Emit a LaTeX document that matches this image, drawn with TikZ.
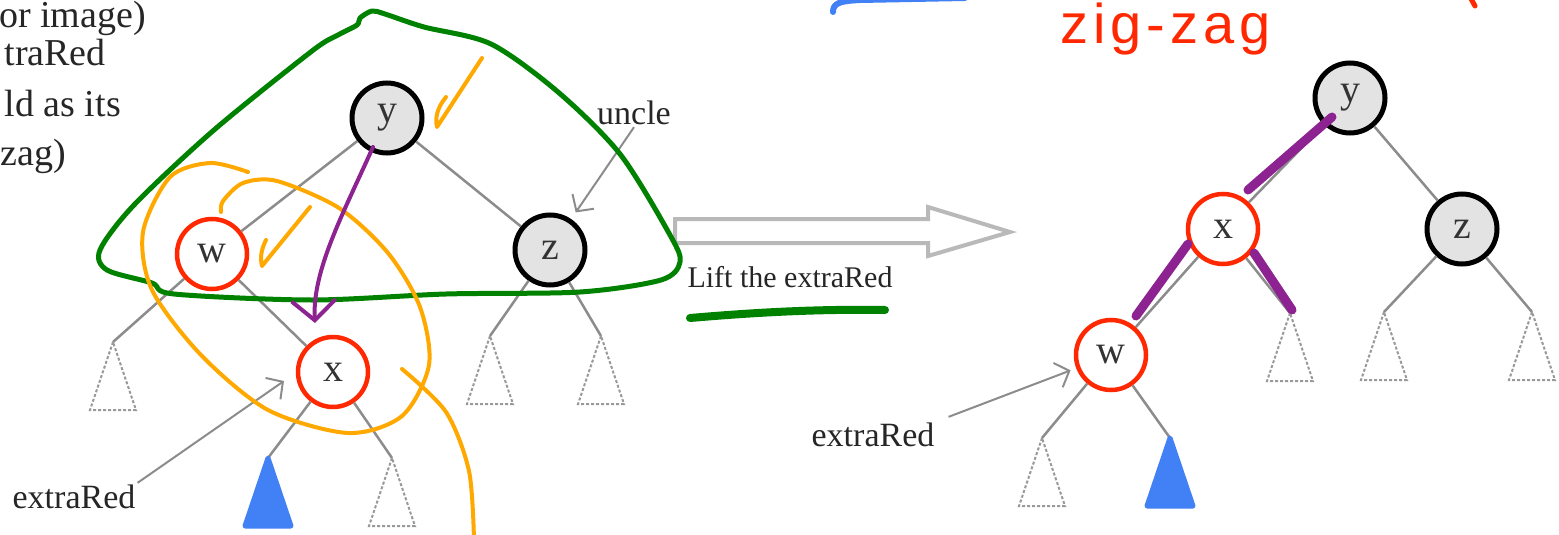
\documentclass[tikz,border=0pt]{standalone}
\usepackage{fontspec}
\setmainfont{Liberation Serif}
\setsansfont{Liberation Sans}
\usepackage{tikz}
\usetikzlibrary{arrows.meta, positioning, calc}

\definecolor{inkred}{RGB}{255,40,0}
\definecolor{inkgreen}{RGB}{0,130,0}
\definecolor{inkorange}{RGB}{255,168,0}
\definecolor{inkpurple}{RGB}{140,35,145}
\definecolor{inkblue}{RGB}{66,128,245}

% dashed subtree below a given apex
\newcommand{\leaftri}[2][]{\draw[subtree,#1] (#2) -- ++(-23,68) -- ++(46,0) -- cycle;}

\begin{document}
\begin{tikzpicture}[
    x=1pt, y=-1pt,
    font=\fontsize{34}{40}\selectfont,
    >=Stealth,
    blacknode/.style={circle, draw=black, line width=5pt, fill=gray!22, minimum size=70pt, inner sep=0pt, text=black!80, font=\fontsize{40}{44}\selectfont},
    rednode/.style={circle, draw=inkred, line width=4.5pt, fill=white, minimum size=70pt, inner sep=0pt, text=black!80, font=\fontsize{40}{44}\selectfont},
    edge/.style={draw=gray!90, line width=2.5pt},
    subtree/.style={draw=gray!80, line width=2pt, densely dashed},
    blobtri/.style={solid, draw=inkblue, fill=inkblue, line width=5pt, line join=round},
    pointer/.style={draw=gray!90, line width=2pt, -{Straight Barb[length=12pt, width=26pt]}},
    label/.style={text=black!85, inner sep=2pt},
    hand/.style={line width=#1, line cap=round, line join=round},
]
    \fill[white] (0,0) rectangle (1559,535);
    \useasboundingbox (0,0) rectangle (1559,535);

    % Text at the left border
    \node[label, anchor=base east, font=\fontsize{38}{44}\selectfont] (ctxa) at (148,28) {or image)};
    \node[label, anchor=base east, font=\fontsize{38}{44}\selectfont] (ctxb) at (108,66) {traRed};
    \node[label, anchor=base east, font=\fontsize{38}{44}\selectfont] (ctxc) at (123,117) {ld as its};
    \node[label, anchor=base east, font=\fontsize{38}{44}\selectfont] (ctxd) at (68,165) {zag)};

    % Left tree (before)
    \node[blacknode] (ly) at (387,118) {y};
    \node[rednode] (lw) at (212,254) {w};
    \node[blacknode] (lz) at (550,250) {z};
    \node[rednode] (lx) at (333,372) {x};

    \coordinate (lwl) at (113,342);
    \coordinate (lxl) at (268,458);
    \coordinate (lxr) at (392,458);
    \coordinate (lzl) at (490,336);
    \coordinate (lzr) at (601,336);

    \draw[edge] (ly) -- (lw);
    \draw[edge] (ly) -- (lz);
    \draw[edge] (lw) -- (lx);
    \draw[edge] (lw) -- (lwl);
    \draw[edge] (lx) -- (lxl);
    \draw[edge] (lx) -- (lxr);
    \draw[edge] (lz) -- (lzl);
    \draw[edge] (lz) -- (lzr);

    \leaftri{lwl}
    \leaftri[blobtri]{lxl}
    \leaftri{lxr}
    \leaftri{lzl}
    \leaftri{lzr}

    \node[label] (uncle) at (634,113) {uncle};
    \draw[pointer, shorten >=8pt] (uncle.south) -- (lz);

    \node[label] (lred) at (74,497) {extraRed};
    \coordinate (lredtip) at (284,381);
    \draw[pointer] (lred.north east) -- (lredtip);

    % Rotation arrow
    \draw[draw=gray!55, line width=4pt, fill=white, line join=miter]
        (675,219) -- (928,219) -- (928,207) -- (1010,232) -- (928,256) -- (928,243) -- (675,243) -- cycle;
    \node[label, font=\fontsize{30}{36}\selectfont] (lift) at (790,277) {Lift the extraRed};

    % Right tree (after)
    \node[blacknode] (ry) at (1350,98) {y};
    \node[rednode] (rx) at (1223,229) {x};
    \node[blacknode] (rz) at (1462,229) {z};
    \node[rednode] (rw) at (1111,355) {w};

    \coordinate (rxr) at (1290,313);
    \coordinate (rzl) at (1384,312);
    \coordinate (rzr) at (1532,312);
    \coordinate (rwl) at (1042,438);
    \coordinate (rwr) at (1170,438);

    \draw[edge] (ry) -- (rx);
    \draw[edge] (ry) -- (rz);
    \draw[edge] (rx) -- (rw);
    \draw[edge] (rx) -- (rxr);
    \draw[edge] (rz) -- (rzl);
    \draw[edge] (rz) -- (rzr);
    \draw[edge] (rw) -- (rwl);
    \draw[edge] (rw) -- (rwr);

    \leaftri{rxr}
    \leaftri{rzl}
    \leaftri{rzr}
    \leaftri{rwl}
    \leaftri[blobtri]{rwr}

    \node[label] (rred) at (873,435) {extraRed};
    \draw[pointer, shorten >=6pt] ($(rred.north east)+(12,-4)$) -- (rw);

    % Hand annotations
    \draw[inkgreen, hand=5pt] plot[smooth cycle] coordinates {
        (424,27) (385,14) (372,11) (360,18) (357,25) (338,35) (312,51)
        (214,130) (134,205) (100,250) (107,270) (152,283) (174,294)
        (312,300) (446,294) (580,292) (661,280) (680,262) (670,235)
        (620,154) (558,92) (491,44)};
    \draw[inkgreen, hand=8pt] (690,318) .. controls (760,312) and (820,309) .. (885,310);

    \draw[inkorange, hand=4pt] plot[smooth] coordinates {
        (248,172) (210,163) (170,177) (143,232) (152,290) (201,355)
        (268,410) (348,433) (402,416) (429,365) (420,307) (388,253)
        (339,208) (277,181) (243,183) (223,201) (221,212)};
    \draw[inkorange, hand=4pt] plot[smooth] coordinates {(402,369) (446,412) (469,471) (474,540)};
    \draw[inkorange, hand=4pt] (446,97) .. controls (437,108) and (435,118) .. (437,127) -- (482,58);
    \draw[inkorange, hand=4pt] (266,240) .. controls (261,250) and (260,258) .. (262,266) -- (310,207);

    \draw[inkpurple, hand=4pt, -{Straight Barb[length=20pt, width=44pt]}]
        (373,147) .. controls (345,210) and (312,270) .. (315,323);
    \draw[inkpurple, hand=9pt] (1332,117) -- (1248,190);
    \draw[inkpurple, hand=9pt] (1188,244) -- (1136,316);
    \draw[inkpurple, hand=9pt] (1254,253) -- (1292,310);

    \draw[inkblue, hand=6pt] (833,12) .. controls (833,3) and (840,1) .. (860,0) -- (965,-2);
    \draw[inkred, hand=5pt] (1470,-3) -- (1475,6);

    \node[anchor=base west, inner sep=0pt, text=inkred,
          font=\sffamily\fontsize{56}{64}\selectfont\addfontfeature{LetterSpace=9}] (zigzag) at (1060,44) {zig-zag};

\end{tikzpicture}
\end{document}
